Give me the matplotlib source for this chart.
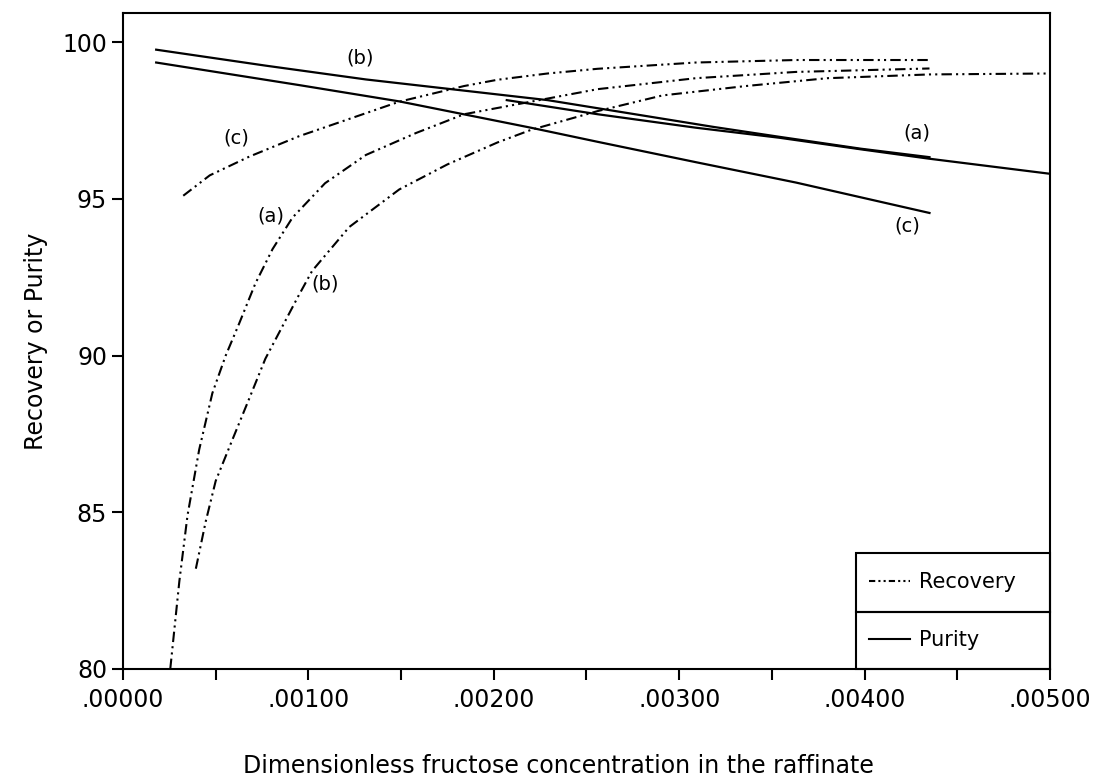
import matplotlib
matplotlib.use("Agg")
import matplotlib.pyplot as plt
from matplotlib.patches import Rectangle
from matplotlib.lines import Line2D

# --- data ---------------------------------------------------------------
# Recovery curves (dash-dot-dot)
rec_a_x = [.000255, .000304, .000348, .000411, .000482, .000554, .000625, .000714,
           .000807, .000914, .00109, .00131, .00158, .00184, .00202, .00229,
           .00256, .00309, .00363, .00435]
rec_a_y = [80.0, 82.8, 84.9, 87.0, 88.8, 90.0, 91.0, 92.3,
           93.4, 94.4, 95.5, 96.4, 97.1, 97.7, 97.9, 98.2,
           98.5, 98.85, 99.05, 99.16]

rec_b_x = [.000393, .000446, .0005, .000589, .000679, .000768, .000857, .000946,
           .00102, .00122, .00149, .00175, .00202, .0022, .00256, .00291,
           .00336, .0038, .00435, .0050]
rec_b_y = [83.2, 84.7, 86.0, 87.3, 88.6, 89.9, 90.9, 91.9,
           92.7, 94.1, 95.3, 96.1, 96.8, 97.2, 97.8, 98.3,
           98.6, 98.85, 98.97, 99.0]

rec_c_x = [.000325, .000468, .000682, .00095, .00122, .00149, .00184, .00202,
           .00229, .00256, .00309, .00363, .00435]
rec_c_y = [95.1, 95.75, 96.35, 97.0, 97.55, 98.1, 98.6, 98.8,
           99.0, 99.15, 99.35, 99.43, 99.43]

# Purity curves (solid)
pur_a_x = [.00207, .00256, .00309, .00354, .00398, .00435, .0050]
pur_a_y = [98.15, 97.70, 97.27, 96.95, 96.58, 96.28, 95.8]

pur_b_x = [.000179, .00077, .00131, .00229, .00273, .00318, .00354, .00398, .00435]
pur_b_y = [99.76, 99.25, 98.81, 98.15, 97.73, 97.30, 96.98, 96.60, 96.33]

pur_c_x = [.000179, .00095, .00149, .0022, .00256, .00309, .00363, .00435]
pur_c_y = [99.35, 98.63, 98.11, 97.27, 96.82, 96.17, 95.52, 94.55]

# curve annotations: (text, x, y)
curve_labels = [("(b)", .00128, 99.51),
                ("(c)", .00061, 96.93),
                ("(a)", .00080, 94.45),
                ("(b)", .00109, 92.29),
                ("(a)", .00428, 97.09),
                ("(c)", .00423, 94.13)]

x_ticks = [0, .001, .002, .003, .004, .005]
x_minor = [.0005, .0015, .0025, .0035, .0045]
y_ticks = [80, 85, 90, 95, 100]

# --- plot ----------------------------------------------------------------
plt.rcParams['font.family'] = ['DejaVu Sans']
rec_dash = (0, (5, 2, 1, 2, 1, 2))

fig = plt.figure(figsize=(11.09, 7.83), dpi=100)
ax = fig.add_axes([0.1109, 0.1456, 0.8359, 0.8378])

for xs, ys in [(rec_a_x, rec_a_y), (rec_b_x, rec_b_y), (rec_c_x, rec_c_y)]:
    ax.plot(xs, ys, color='black', lw=1.5, linestyle=rec_dash)
for xs, ys in [(pur_a_x, pur_a_y), (pur_b_x, pur_b_y), (pur_c_x, pur_c_y)]:
    ax.plot(xs, ys, color='black', lw=1.6, linestyle='-')

for txt, x, y in curve_labels:
    ax.text(x, y, txt, fontsize=14, ha='center', va='center')

ax.set_xlim(0, .005)
ax.set_ylim(80, 100.93)
ax.set_xticks(x_ticks)
ax.set_xticklabels([f"{v:.5f}".lstrip('0') for v in x_ticks])
ax.set_xticks(x_minor, minor=True)
ax.set_yticks(y_ticks)
ax.tick_params(axis='both', which='both', direction='out', length=8, width=1.5,
               labelsize=17, colors='black')
ax.tick_params(axis='x', which='major', pad=6)
for sp in ax.spines.values():
    sp.set_linewidth(1.5)

ax.set_xlabel("Dimensionless fructose concentration in the raffinate", fontsize=17)
ax.xaxis.set_label_coords(0.47, -0.13)
ax.set_ylabel("Recovery or Purity", fontsize=17, labelpad=10)

# legend box with two cells
lx, lw_ = 0.791, 0.209
for y0 in (0.0, 0.087):
    ax.add_patch(Rectangle((lx, y0), lw_, 0.087 if y0 == 0 else 0.090,
                           transform=ax.transAxes, fill=False,
                           edgecolor='black', lw=1.5, clip_on=False))
leg1 = ax.legend([Line2D([], [], color='black', lw=1.5, linestyle=(0, (3, 1.5, 1, 1.5, 1, 1.5)))],
                 ["Recovery"], loc='center left',
                 bbox_to_anchor=(lx, 0.087, lw_, 0.090), frameon=False,
                 fontsize=15, handlelength=2.0, handletextpad=0.4, borderaxespad=0.2)
ax.add_artist(leg1)
ax.legend([Line2D([], [], color='black', lw=1.5)], ["Purity"], loc='center left',
          bbox_to_anchor=(lx, 0.0, lw_, 0.087), frameon=False,
          fontsize=15, handlelength=2.0, handletextpad=0.4, borderaxespad=0.2)

fig.savefig("out.png", dpi=100)
